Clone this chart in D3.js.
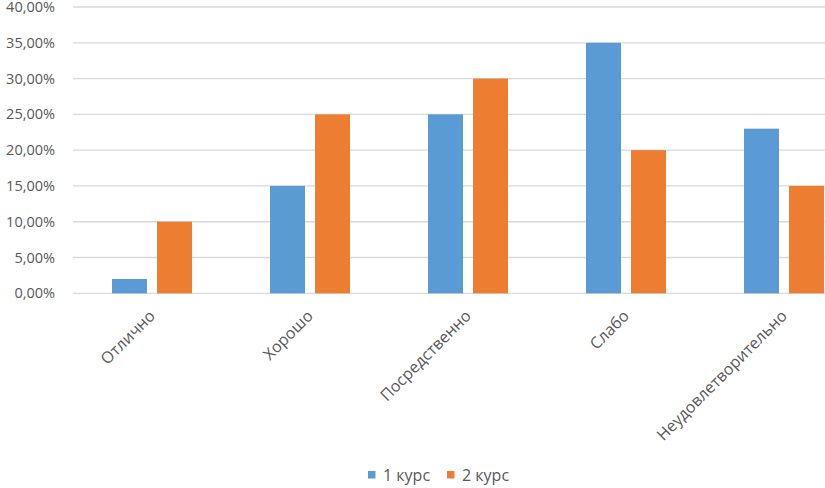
<!DOCTYPE html>
<html><head><meta charset="utf-8">
<script src="https://cdn.jsdelivr.net/npm/d3@7"></script>
<style>body{margin:0;background:#fff}svg{display:block}text{font-family:"Open Sans",sans-serif;fill:#595959}</style>
</head><body><svg id="c" width="825" height="488"></svg>
<script>
const categories = ["Отлично","Хорошо","Посредственно","Слабо","Неудовлетворительно"];
const seriesNames = ["1 курс","2 курс"];
const course1 = [2, 15, 25, 35, 23];
const course2 = [10, 25, 30, 20, 15];
const yTicks = [0,5,10,15,20,25,30,35,40];
const colors = ["#5B9BD5","#ED7D31"];

const svg = d3.select("#c");
const x0 = d3.scaleBand().domain(categories).range([73, 863]).paddingInner(78/158).paddingOuter(39/158);
const x1 = d3.scaleBand().domain(seriesNames).range([0, x0.bandwidth()]).paddingInner(2 - x0.bandwidth()/45);
const y = d3.scaleLinear().domain([0,40]).range([293.3, 7]);

// gridlines
svg.append("g").selectAll("line").data(yTicks).join("line")
  .attr("x1",73).attr("x2",825).attr("y1",d=>y(d)).attr("y2",d=>y(d))
  .attr("stroke","#D9D9D9").attr("stroke-width",1.3);

// y labels
const fmt = d => d3.format(".2f")(d).replace(".", ",") + "%";
svg.append("g").selectAll("text").data(yTicks).join("text")
  .attr("x",55).attr("y",d=>y(d)).attr("dy","0.35em").attr("text-anchor","end")
  .style("font-size","14.5px").text(fmt);

const data = [course1, course2];
data.forEach((vals, si) => {
  svg.append("g").selectAll("rect").data(vals).join("rect")
    .attr("x",(d,i)=>x0(categories[i]) + x1(seriesNames[si]))
    .attr("width",x1.bandwidth())
    .attr("y",d=>y(d)).attr("height",d=>y(0)-y(d))
    .attr("fill",colors[si]);
});

// category labels
svg.append("g").selectAll("text").data(categories).join("text")
  .attr("transform",d=>`translate(${x0(d)+x0.bandwidth()/2},${313}) rotate(-45)`)
  .attr("text-anchor","end").attr("dy","0.35em")
  .style("font-size","16px").text(d=>d);

// legend
const lx = [368, 447];
const leg = svg.append("g").selectAll("g").data(seriesNames).join("g")
  .attr("transform",(d,i)=>`translate(${lx[i]},471)`);
leg.append("rect").attr("width",7.5).attr("height",7.5).attr("fill",(d,i)=>colors[i]);
leg.append("text").attr("x",15).attr("y",4).attr("dy","0.35em").style("font-size","16px").text(d=>d);
</script></body></html>
